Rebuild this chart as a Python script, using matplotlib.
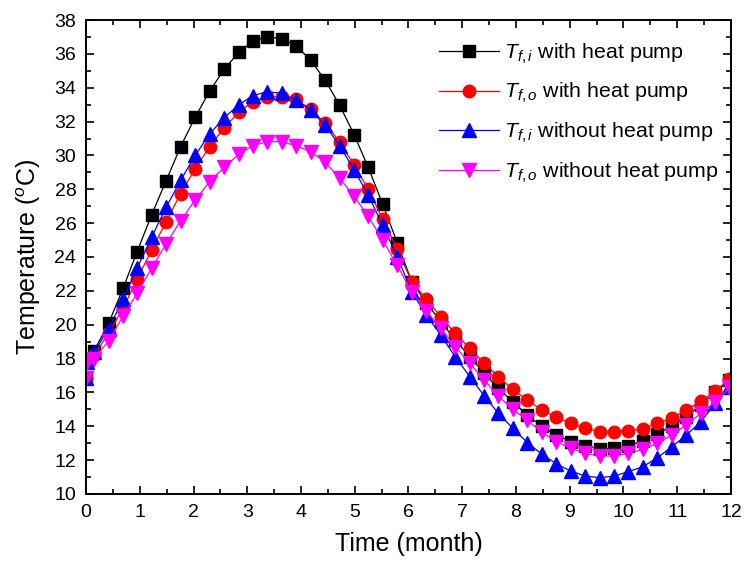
import matplotlib
matplotlib.use('Agg')
import matplotlib.pyplot as plt
from matplotlib.ticker import MultipleLocator

plt.rcParams['font.family'] = ['Liberation Sans', 'DejaVu Sans']
plt.rcParams['mathtext.fontset'] = 'custom'
plt.rcParams['mathtext.it'] = 'Liberation Sans:italic'
plt.rcParams['mathtext.rm'] = 'Liberation Sans'

# time (month) of each marker
month = [0.0, 0.01, 0.15, 0.42, 0.69, 0.95, 1.22, 1.49, 1.76, 2.03, 2.30, 2.57,
         2.84, 3.10, 3.37, 3.64, 3.91, 4.18, 4.45, 4.72, 4.99, 5.25, 5.52, 5.79,
         6.06, 6.33, 6.60, 6.87, 7.14, 7.41, 7.67, 7.94, 8.21, 8.48, 8.75, 9.02,
         9.29, 9.56, 9.83, 10.09, 10.36, 10.63, 10.90, 11.17, 11.44, 11.71, 11.97]

tfi_hp = [16.85, 17.8, 18.46, 20.08, 22.15, 24.31, 26.48, 28.5, 30.52, 32.25, 33.80,
          35.08, 36.09, 36.74, 37.01, 36.89, 36.48, 35.62, 34.44, 32.96, 31.22,
          29.30, 27.13, 24.85, 22.54, 21.30, 20.18, 19.10, 18.11, 17.13, 16.24,
          15.45, 14.67, 14.00, 13.48, 13.10, 12.84, 12.66, 12.70, 12.85, 13.13,
          13.53, 14.02, 14.57, 15.26, 16.04, 16.73]

tfo_hp = [16.85, 17.8, 18.2, 19.5, 20.97, 22.68, 24.41, 26.08, 27.74, 29.20, 30.52,
          31.64, 32.54, 33.17, 33.47, 33.47, 33.31, 32.72, 31.92, 30.77, 29.43,
          28.00, 26.24, 24.45, 22.54, 21.52, 20.47, 19.49, 18.60, 17.72, 16.93,
          16.18, 15.55, 14.96, 14.52, 14.18, 13.88, 13.68, 13.68, 13.72, 13.84,
          14.18, 14.47, 14.96, 15.49, 16.08, 16.79]

tfi_nohp = [16.85, 17.8, 18.4, 19.75, 21.52, 23.33, 25.16, 26.93, 28.52, 30.0, 31.26,
            32.23, 32.98, 33.53, 33.76, 33.67, 33.27, 32.68, 31.77, 30.57, 29.14,
            27.66, 25.87, 24.02, 21.95, 20.57, 19.39, 18.11, 16.93, 15.79, 14.77,
            13.88, 13.04, 12.35, 11.78, 11.35, 11.06, 10.96, 11.06, 11.32, 11.61,
            12.14, 12.79, 13.48, 14.27, 15.36, 16.34]

tfo_nohp = [16.85, 17.8, 18.0, 19.04, 20.51, 21.85, 23.33, 24.77, 26.15, 27.36, 28.44,
            29.30, 30.06, 30.57, 30.81, 30.81, 30.57, 30.22, 29.60, 28.65, 27.58,
            26.40, 25.0, 23.50, 21.95, 20.81, 19.79, 18.70, 17.72, 16.73, 15.79,
            15.0, 14.35, 13.65, 13.09, 12.70, 12.40, 12.24, 12.24, 12.40, 12.64,
            12.99, 13.48, 14.08, 14.77, 15.45, 16.30]

labels = [r'$T_{f,i}$ with heat pump', r'$T_{f,o}$ with heat pump',
          r'$T_{f,i}$ without heat pump', r'$T_{f,o}$ without heat pump']

fig = plt.figure(figsize=(7.44, 5.75), dpi=100)
ax = fig.add_axes([0.1156, 0.1409, 0.8669, 0.8243])

ax.plot(month, tfi_hp, color='black', marker='s', ms=8.3, lw=0.9, label=labels[0])
ax.plot(month, tfo_hp, color='red', marker='o', ms=9, lw=0.9, label=labels[1])
ax.plot(month, tfi_nohp, color='blue', marker='^', ms=9.5, lw=0.9, label=labels[2])
ax.plot(month, tfo_nohp, color='magenta', marker='v', ms=9.5, lw=0.9, label=labels[3])

ax.set_xlim(0, 12)
ax.set_ylim(10, 38)
ax.xaxis.set_major_locator(MultipleLocator(1))
ax.xaxis.set_minor_locator(MultipleLocator(0.5))
ax.yaxis.set_major_locator(MultipleLocator(2))
ax.yaxis.set_minor_locator(MultipleLocator(1))
ax.tick_params(which='both', direction='in', top=True, right=True, width=1.2)
ax.tick_params(which='major', length=6, labelsize=14, pad=7)
ax.tick_params(which='minor', length=3.5)
for s in ax.spines.values():
    s.set_linewidth(1.4)

ax.set_xlabel('Time (month)', fontsize=18, labelpad=8)
ax.set_ylabel(r'Temperature ($^o$C)', fontsize=18, labelpad=8)

ax.legend(loc='upper right', bbox_to_anchor=(1.01, 0.995), frameon=False,
          fontsize=15.4, handlelength=2.8, handletextpad=0.2, labelspacing=0.72)

fig.savefig('out.png', dpi=100)
